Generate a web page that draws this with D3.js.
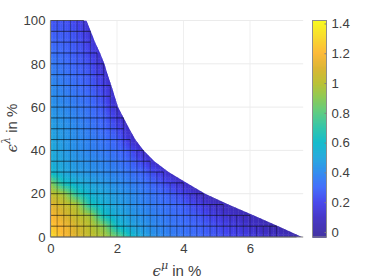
<!DOCTYPE html>
<html><head><meta charset="utf-8">
<script src="https://cdn.jsdelivr.net/npm/d3@7"></script>
<style>
html,body{margin:0;padding:0;background:#fff}
svg{display:block}
text{font-family:"Liberation Sans",Arial,sans-serif;fill:#404040}
</style></head><body><svg id="c" width="374" height="280"></svg>
<script>
const xNodes=[0,.4,.8,1.2,1.6,2,2.4,2.8,3.2,3.6,4,4.4,4.8,5.2,5.6,6,6.4,6.8,7.2,7.6];
const yNodes=[0,5,10,15,20,25,30,35,40,45,50,55,60,65,70,75,80,85,90,95,100];
const surface=[
[1.33,1.2,1.1,1.02,.97,.85,.62,.49,.42,.37,.34,.31,.27,.23,.2,.17,.13,.09,.04,0],
[1.25,1.18,1.08,1.0,.9,.6,.5,.44,.39,.35,.32,.29,.25,.2,.16,.12,.07,.02],
[1.2,1.1,1.02,.95,.62,.52,.46,.41,.37,.33,.3,.26,.2,.14,.1,.06,.02],
[1.12,1.04,.97,.65,.54,.48,.43,.38,.34,.31,.27,.2,.12,.06,.02],
[1.02,.95,.68,.55,.5,.45,.41,.36,.32,.27,.2,.1,.03],
[.9,.62,.54,.49,.45,.41,.37,.33,.27,.2,.1,.03],
[.58,.5,.46,.43,.4,.37,.33,.28,.2,.08],
[.53,.48,.44,.41,.38,.34,.29,.2,.08],
[.52,.46,.42,.38,.35,.31,.24,.1],
[.5,.45,.41,.37,.33,.28,.14],
[.48,.44,.4,.35,.3,.23,.08],
[.46,.42,.38,.33,.28,.18],
[.44,.4,.36,.32,.25,.12],
[.42,.38,.34,.3,.22,.09],
[.41,.36,.32,.27,.19,.07],
[.38,.34,.3,.25,.15],
[.36,.32,.28,.23,.11],
[.33,.3,.26,.2,.09],
[.3,.28,.25,.17,.07],
[.27,.26,.23,.13],
[.24,.24,.2,.09]];
const boundary=[7.56,6.85,6.1,5.35,4.65,4.1,3.55,3.12,2.8,2.55,2.37,2.2,2.03,1.93,1.83,1.72,1.62,1.49,1.34,1.21,1.08];
const xTicks=[0,2,4,6],yTicks=[0,20,40,60,80,100],cTicks=[0,.2,.4,.6,.8,1,1.2,1.4];
const cStops=[-.034,.1,.2,.3,.4,.5,.6,.7,.8,.9,1,1.1,1.2,1.3,1.42];
const cColors=["#3a2a9e","#3f2fc6","#4141ec","#3b68fb","#2a88ee","#1ea6dc","#0bb9c9","#2ac3a6","#56c97e","#87c84f","#b8be2c","#dab22b","#fdb630","#f8d626","#f8fb15"];

const svg=d3.select("#c");
const x=d3.scaleLinear().domain([0,7.6]).range([50.5,303.2]);
const y=d3.scaleLinear().domain([0,100]).range([237,20.5]);
const color=d3.scaleLinear().domain(cStops).range(cColors).clamp(true);
const cy=d3.scaleLinear().domain([-.034,1.42]).range([237,20.5]);
const val=(vx,vy)=>{
  const i=Math.min(xNodes.length-2,Math.floor(vx/.4)),j=Math.min(yNodes.length-2,Math.floor(vy/5));
  const tx=(vx-xNodes[i])/.4,ty=(vy-yNodes[j])/5;
  const g=(r,c)=>surface[r][c]??0;
  return (1-ty)*((1-tx)*g(j,i)+tx*g(j,i+1))+ty*((1-tx)*g(j+1,i)+tx*g(j+1,i+1));
};
const bAt=vy=>d3.scaleLinear().domain(yNodes).range(boundary)(vy);

// grid
svg.append("g").selectAll("line").data(xTicks.slice(1)).join("line")
 .attr("x1",d=>x(d)).attr("x2",d=>x(d)).attr("y1",y(100)).attr("y2",y(0)).attr("stroke","#efefef");
svg.append("g").selectAll("line").data(yTicks.slice(1)).join("line")
 .attr("x1",x(0)).attr("x2",x(7.6)).attr("y1",d=>y(d)).attr("y2",d=>y(d)).attr("stroke","#ebebeb");

// surface
const clipPts=[[0,0],...boundary.map((b,i)=>[b,yNodes[i]]),[0,100]];
svg.append("clipPath").attr("id","cp").append("path")
 .attr("d",d3.line().x(d=>x(d[0])).y(d=>y(d[1]))(clipPts)+"Z");
const cells=[];
const dx=.05,dy=1.25;
d3.range(0,152).forEach(a=>d3.range(0,80).forEach(b=>{
  const vx=a*dx,vy=b*dy;
  if(vx<=bAt(vy)+.1||vx<=bAt(vy+dy)+.1) cells.push([vx,vy]);
}));
svg.append("g").attr("clip-path","url(#cp)").selectAll("rect").data(cells).join("rect")
 .attr("x",d=>x(d[0])).attr("y",d=>y(d[1]+dy))
 .attr("width",x(dx)-x(0)+.4).attr("height",y(0)-y(dy)+.4)
 .attr("fill",d=>color(val(d[0]+dx/2,d[1]+dy/2)));

// mesh
const meshX=d3.range(0,38).map(k=>k*.2);
const meshH=svg.append("g").attr("stroke","#000").attr("stroke-opacity",.75).attr("stroke-width",.8);
meshH.selectAll("line").data(yNodes).join("line")
 .attr("x1",x(0)).attr("y1",d=>y(d)).attr("y2",d=>y(d))
 .attr("x2",(d,i)=>x(Math.floor(boundary[i]/.2+1e-6)*.2));
const meshV=svg.append("g").attr("stroke","#000").attr("stroke-opacity",.5).attr("stroke-width",.7);
meshV.selectAll("line").data(meshX).join("line")
 .attr("x1",d=>x(d)).attr("x2",d=>x(d)).attr("y1",y(0))
 .attr("y2",d=>{let t=0;yNodes.forEach((v,i)=>{if(boundary[i]>=d-1e-6&&t===v)t=v+5});return y(Math.max(0,t-5));});

// axes
const styleAxis=g=>{g.selectAll("text").attr("font-size",13.2).style("fill","#404040");
  g.selectAll("path,line").attr("stroke","#808080");};
svg.append("g").attr("transform",`translate(0,${y(0)})`)
 .call(d3.axisBottom(x).tickValues(xTicks).tickFormat(d3.format("d")).tickSize(0).tickPadding(7)).call(styleAxis)
 .select("path").attr("d",`M${x(0)},0H${x(7.6)}`).attr("stroke-width",1.2);
svg.append("g").attr("transform",`translate(${x(0)},0)`)
 .call(d3.axisLeft(y).tickValues(yTicks).tickFormat(d3.format("d")).tickSize(0).tickPadding(5)).call(styleAxis)
 .select("path").attr("d",`M0,${y(0)}V${y(100)}`).attr("stroke-width",1.2);

// colorbar
const barX=312.5,barW=14;
svg.append("g").selectAll("rect").data(d3.range(20.5,237,1)).join("rect")
 .attr("x",barX).attr("width",barW).attr("y",d=>d).attr("height",1.4)
 .attr("fill",d=>color(cy.invert(d+.5)));
svg.append("rect").attr("x",barX).attr("y",20.5).attr("width",barW).attr("height",216.5)
 .attr("fill","none").attr("stroke","#8c8c8c");
svg.append("g").attr("transform",`translate(${barX+barW},0)`)
 .call(d3.axisRight(cy).tickValues(cTicks).tickFormat(d=>String(+d.toFixed(1))).tickSize(-2).tickPadding(5)).call(styleAxis)
 .call(g=>g.select("path").remove());

// labels
const xl=svg.append("text").attr("x",177).attr("y",276).attr("text-anchor","middle").attr("font-size",15);
xl.append("tspan").text("\u03F5").attr("font-family","DejaVu Serif").attr("font-style","italic").attr("font-size",15);
xl.append("tspan").text("\u03BC").attr("font-size",11).attr("dy",-7).attr("font-family","DejaVu Serif").attr("font-style","italic");
xl.append("tspan").text(" in %").attr("dy",7);
const yl=svg.append("text").attr("transform","translate(17,128) rotate(-90)").attr("text-anchor","middle").attr("font-size",15);
yl.append("tspan").text("\u03F5").attr("font-family","DejaVu Serif").attr("font-style","italic");
yl.append("tspan").text("\u03BB").attr("font-size",11).attr("dy",-7).attr("font-family","DejaVu Serif").attr("font-style","italic");
yl.append("tspan").text(" in %").attr("dy",7);
</script></body></html>
